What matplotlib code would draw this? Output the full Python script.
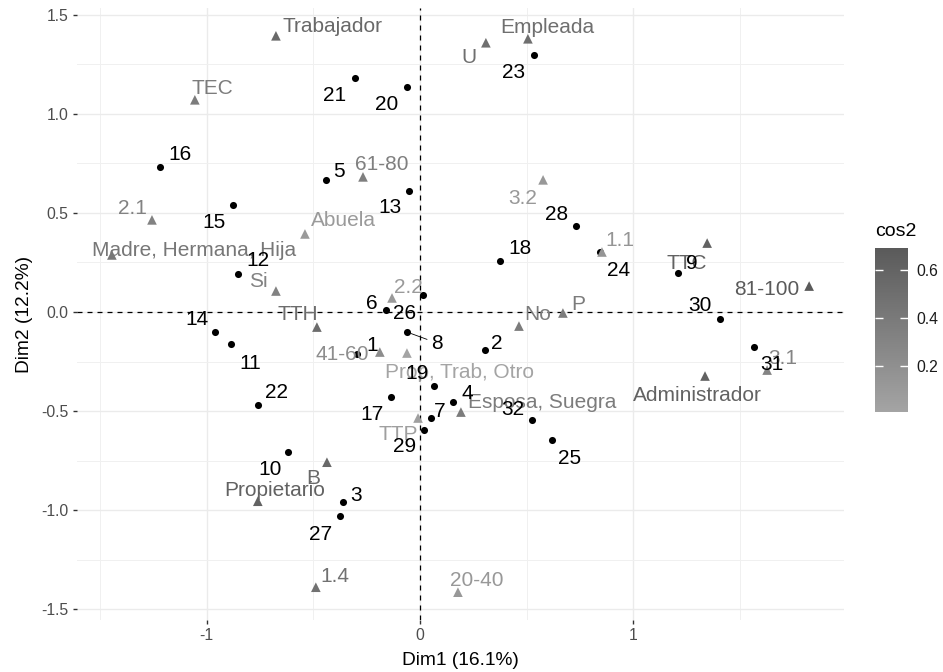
import numpy as np
import matplotlib.pyplot as plt
from matplotlib.colors import LinearSegmentedColormap, Normalize
import matplotlib as mpl

plt.rcParams['font.family'] = ['Liberation Sans', 'DejaVu Sans']
plt.rcParams['axes.unicode_minus'] = False

# individuals (rows)
ind_names = [str(i) for i in range(1, 33)]
ind_dim1 = [-0.295, 0.305, -0.361, 0.155, -0.441, -0.159, 0.052, -0.061,
            1.210, -0.619, -0.886, -0.853, -0.052, -0.961, -0.877, -1.219,
            -0.136, 0.375, 0.066, -0.061, -0.305, -0.760, 0.534, 0.844,
            0.619, 0.014, -0.375, 0.731, 0.019, 1.406, 1.566, 0.525]
ind_dim2 = [-0.212, -0.192, -0.960, -0.455, 0.667, 0.010, -0.535, -0.101,
            0.197, -0.707, -0.162, 0.192, 0.611, -0.101, 0.540, 0.732,
            -0.429, 0.258, -0.374, 1.136, 1.182, -0.470, 1.298, 0.303,
            -0.646, 0.086, -1.030, 0.434, -0.596, -0.035, -0.177, -0.545]

# variable categories (columns)
var_names = ["Trabajador", "Empleada", "U", "TEC", "61-80", "3.2", "2.1",
             "Abuela", "Madre, Hermana, Hija", "1.1", "TTC", "Si", "2.2",
             "81-100", "P", "No", "TTH", "41-60", "Prop, Trab, Otro", "3.1",
             "Administrador", "Esposa, Suegra", "TTP", "B", "Propietario",
             "1.4", "20-40"]
var_dim1 = [-0.675, 0.506, 0.309, -1.055, -0.267, 0.577, -1.256,
            -0.539, -1.444, 0.853, 1.346, -0.675, -0.131,
            1.824, 0.670, 0.464, -0.483, -0.188, -0.061, 1.627,
            1.336, 0.192, -0.009, -0.436, -0.760,
            -0.488, 0.178]
var_dim2 = [1.394, 1.379, 1.359, 1.071, 0.682, 0.667, 0.465,
            0.394, 0.288, 0.303, 0.348, 0.106, 0.071,
            0.131, -0.005, -0.071, -0.076, -0.202, -0.207, -0.293,
            -0.323, -0.505, -0.535, -0.758, -0.955,
            -1.389, -1.414]
var_cos2 = [0.55, 0.50, 0.50, 0.38, 0.35, 0.12, 0.32,
            0.10, 0.42, 0.15, 0.62, 0.32, 0.10,
            0.69, 0.38, 0.38, 0.52, 0.22, 0.01, 0.30,
            0.62, 0.38, 0.06, 0.55, 0.62,
            0.48, 0.12]

# label offsets in pixels (dx, dy up), repel-like placement
ind_off = {
    "1": (15, 10), "2": (12, 8), "3": (13, 8), "4": (14, 10), "5": (13, 9),
    "6": (-14, 8), "7": (9, 8), "8": (30, -10), "9": (14, 10),
    "10": (-18, -16), "11": (19, -18), "12": (20, 14), "13": (-19, -16),
    "14": (-18, 14), "15": (-19, -16), "16": (20, 13), "17": (-19, -16),
    "18": (20, 13), "19": (-17, 14), "20": (-20, -17), "21": (-20, -17),
    "22": (19, 14), "23": (-20, -17), "24": (19, -18), "25": (18, -17),
    "26": (-18, -18), "27": (-19, -17), "28": (-19, 13), "29": (-19, -15),
    "30": (-20, 14), "31": (18, -16), "32": (-19, 12),
}
var_off = {
    "Trabajador": (57, 10), "Empleada": (19, 12), "U": (-17, -14),
    "TEC": (18, 12), "61-80": (19, 13), "3.2": (-20, -18), "2.1": (-20, 12),
    "Abuela": (38, 14), "Madre, Hermana, Hija": (82, 5), "1.1": (18, 12),
    "TTC": (-20, -19), "Si": (-18, 11), "2.2": (16, 11), "81-100": (-42, -2),
    "P": (15, 10), "No": (19, 13), "TTH": (-19, 14), "41-60": (-38, -1),
    "Prop, Trab, Otro": (53, -18), "3.1": (16, 13),
    "Administrador": (-8, -18), "Esposa, Suegra": (81, 11), "TTP": (-20, -15),
    "B": (-14, -15), "Propietario": (17, 12), "1.4": (19, 12),
    "20-40": (19, 13),
}

W, H = 943, 672
fig = plt.figure(figsize=(W / 100, H / 100), dpi=100)
ax = fig.add_axes([77 / W, 1 - 620 / H, (844 - 77) / W, (620 - 8) / H])

cmap = LinearSegmentedColormap.from_list("grey_grad", ["#a4a4a4", "#5a5a5a"])
norm = Normalize(vmin=min(var_cos2), vmax=max(var_cos2))

# axis limits with 5% expansion like ggplot
all_x = ind_dim1 + var_dim1
all_y = ind_dim2 + var_dim2
xr = max(all_x) - min(all_x)
yr = max(all_y) - min(all_y)
ax.set_xlim(min(all_x) - 0.05 * xr, max(all_x) + 0.05 * xr)
ax.set_ylim(min(all_y) - 0.05 * yr, max(all_y) + 0.05 * yr)

ax.set_xticks([-1, 0, 1])
ax.set_xticklabels(["-1", "0", "1"])
ax.set_xticks([-1.5, -0.5, 0.5, 1.5], minor=True)
yt = [-1.5, -1.0, -0.5, 0.0, 0.5, 1.0, 1.5]
ax.set_yticks(yt)
ax.set_yticklabels([f"{v:.1f}" for v in yt])
ax.set_yticks([-1.25, -0.75, -0.25, 0.25, 0.75, 1.25], minor=True)

ax.grid(which="major", color="#ebebeb", lw=1.0)
ax.grid(which="minor", color="#f0f0f0", lw=0.7)
ax.set_axisbelow(True)
for s in ax.spines.values():
    s.set_visible(False)
ax.tick_params(which="major", length=3, width=1, color="#333333",
               labelsize=11.3, labelcolor="#4d4d4d", pad=3)
ax.tick_params(which="minor", length=0)

ax.axhline(0, color="black", lw=0.9, ls=(0, (4, 4)), zorder=1)
ax.axvline(0, color="black", lw=0.9, ls=(0, (4, 4)), zorder=1)

ax.scatter(ind_dim1, ind_dim2, s=26, color="black", marker="o",
           linewidths=0, zorder=3)
ax.scatter(var_dim1, var_dim2, s=48, c=var_cos2, cmap=cmap, norm=norm,
           marker="^", linewidths=0, zorder=3)

for name, x, y, c2 in zip(var_names, var_dim1, var_dim2, var_cos2):
    dx, dy = var_off[name]
    ax.annotate(name, (x, y), xytext=(dx, dy - 1), textcoords="offset pixels",
                ha="center", va="center", fontsize=15, color=cmap(norm(c2)),
                zorder=4)

for name, x, y in zip(ind_names, ind_dim1, ind_dim2):
    dx, dy = ind_off[name]
    kw = {}
    if name == "8":
        kw["arrowprops"] = dict(arrowstyle="-", lw=0.6, color="black",
                                shrinkA=1, shrinkB=3)
    ax.annotate(name, (x, y), xytext=(dx, dy - 1), textcoords="offset pixels",
                ha="center", va="center", fontsize=15, color="black",
                zorder=5, **kw)

ax.set_xlabel("Dim1 (16.1%)", fontsize=13.8, labelpad=6)
ax.set_ylabel("Dim2 (12.2%)", fontsize=13.8, labelpad=6)

# colour bar for cos2
cax = fig.add_axes([875 / W, 1 - 412 / H, 33 / W, 164 / H])
cb = mpl.colorbar.ColorbarBase(cax, cmap=cmap, norm=norm, ticks=[0.2, 0.4, 0.6])
cb.outline.set_visible(False)
cb.ax.set_yticklabels(["0.2", "0.4", "0.6"])
cax.tick_params(direction="in", length=6, width=1, color="white",
                left=True, right=True, labelsize=11.3, labelcolor="#1a1a1a",
                pad=6)
fig.text(875 / W, 1 - 232 / H, "cos2", fontsize=14, va="center", ha="left")

fig.savefig("out.png", dpi=100)
